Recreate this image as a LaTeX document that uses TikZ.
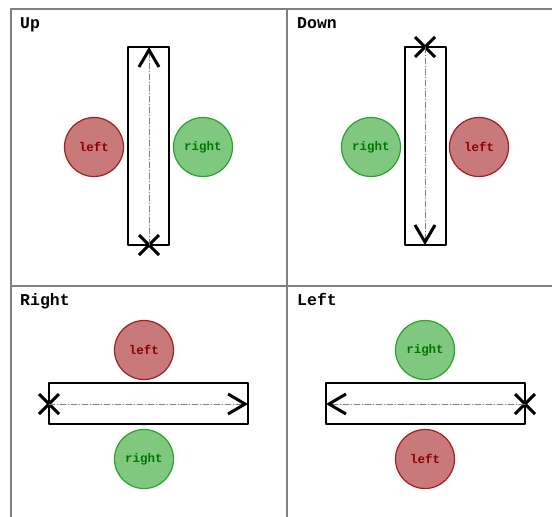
\documentclass[tikz,border=0pt]{standalone}
\usepackage{fontspec}
\setmonofont{Liberation Mono}
\usetikzlibrary{arrows.meta,shapes.misc,positioning}
\definecolor{leftfill}{RGB}{200,122,122}
\definecolor{leftdraw}{RGB}{165,30,30}
\definecolor{lefttext}{RGB}{140,0,0}
\definecolor{rightfill}{RGB}{128,200,128}
\definecolor{rightdraw}{RGB}{40,165,40}
\definecolor{righttext}{RGB}{0,120,0}
\definecolor{gridgray}{RGB}{128,128,128}

\begin{document}
\begin{tikzpicture}[x=1pt, y=-1pt, line cap=round, line join=round]
	\tikzset{
		lane/.style={draw, line width=2.5pt, inner sep=0pt},
		vlane/.style={lane, minimum width=41pt, minimum height=198pt},
		hlane/.style={lane, minimum width=199pt, minimum height=41pt},
		side/.style={circle, minimum size=59pt, inner sep=0pt, line width=1.2pt, font=\ttfamily\bfseries\fontsize{12.5}{13}\selectfont},
		leftside/.style={side, draw=leftdraw, fill=leftfill, text=lefttext},
		rightside/.style={side, draw=rightdraw, fill=rightfill, text=righttext},
		startx/.style={cross out, draw, line width=3pt, line cap=butt, minimum size=17pt, inner sep=0pt},
		track/.style={gridgray, line width=0.8pt, dash pattern=on 6pt off 2pt on 1pt off 2pt, -{Straight Barb[length=17pt, width=20pt, line width=3pt, color=black]}},
		title/.style={anchor=base west, inner sep=0pt, font=\ttfamily\bfseries\fontsize{16.5}{17}\selectfont}
	}
	\useasboundingbox (0,0) rectangle (552,517);
	% grid
	\draw[gridgray, line width=1.5pt, line cap=butt] (11,517) -- (11,9) -- (552,9);
	\draw[gridgray, line width=1.5pt, line cap=butt] (287,9) -- (287,517);
	\draw[gridgray, line width=1.5pt, line cap=butt] (11,286) -- (552,286);

	% Up
	\node[title] (tup) at (20,28) {Up};
	\node[vlane] (upbox) at (148.5,146) {};
	\node[leftside] (upl) at (94,147) {left};
	\node[rightside] (upr) at (203,147) {right};
	\node[startx] (upx) at (149,245) {};
	\coordinate (upend) at (149,47);
	\draw[track] (upx.center) -- (upend);

	% Down
	\node[title] (tdown) at (297,28) {Down};
	\node[vlane] (downbox) at (425.5,146) {};
	\node[rightside] (downr) at (371,147) {right};
	\node[leftside] (downl) at (479,147) {left};
	\node[startx] (downx) at (425,47) {};
	\coordinate (downend) at (425,245);
	\draw[track] (downx.center) -- (downend);

	% Right
	\node[title] (tright) at (20,305) {Right};
	\node[hlane] (rightbox) at (148.5,403.5) {};
	\node[leftside] (rightl) at (144,350) {left};
	\node[rightside] (rightr) at (144,459) {right};
	\node[startx] (rightx) at (49,404) {};
	\coordinate (rightend) at (248,404);
	\draw[track] (rightx.center) -- (rightend);

	% Left
	\node[title] (tleft) at (297,305) {Left};
	\node[hlane] (leftbox) at (425.5,403.5) {};
	\node[rightside] (leftr) at (425,350) {right};
	\node[leftside] (leftl) at (425,459) {left};
	\node[startx] (leftx) at (525,404) {};
	\coordinate (leftend) at (326,404);
	\draw[track] (leftx.center) -- (leftend);
\end{tikzpicture}
\end{document}
